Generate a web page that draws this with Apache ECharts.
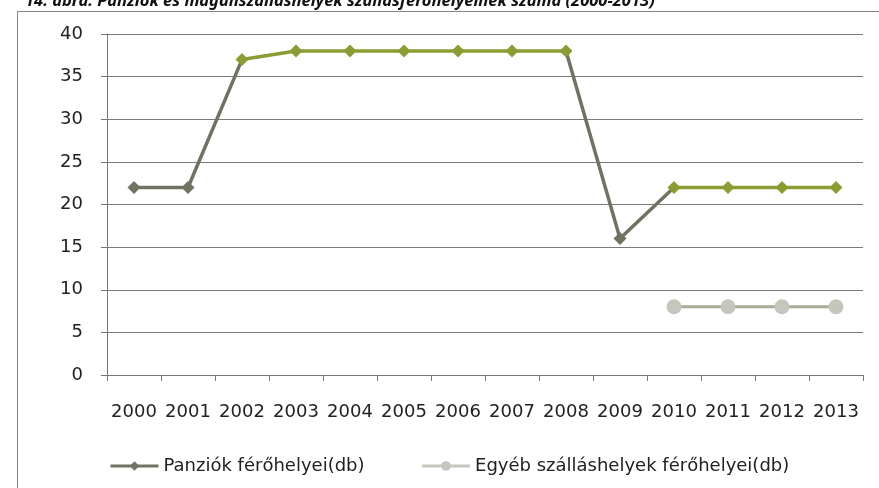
<!DOCTYPE html>
<html><head><meta charset="utf-8">
<script src="https://cdn.jsdelivr.net/npm/echarts@6/dist/echarts.min.js"></script>
<style>html,body{margin:0;padding:0;background:#fff}#c{width:879px;height:488px}</style>
</head><body><div id="c"></div>
<script>
const years = ['2000','2001','2002','2003','2004','2005','2006','2007','2008','2009','2010','2011','2012','2013'];
const panziok = [22,22,37,38,38,38,38,38,38,16,22,22,22,22];
const egyeb = [null,null,null,null,null,null,null,null,null,null,8,8,8,8];
const yTicks = [0,5,10,15,20,25,30,35,40];
const seriesNames = ['Panziók férőhelyei(db)','Egyéb szálláshelyek férőhelyei(db)'];
const titleText = '14. ábra: Panziók és magánszálláshelyek szállásférőhelyeinek száma (2000-2013)';

const chart = echarts.init(document.getElementById('c'), null, {renderer:'canvas'});
const font = 'DejaVu Sans';
chart.setOption({
  animation:false,
  backgroundColor:'#fff',
  title:{text:titleText,left:20,top:-12,textStyle:{fontFamily:'Noto Sans',fontSize:16.5,fontWeight:'bold',fontStyle:'italic',color:'#111'}},
  graphic:[
    {type:'line',shape:{x1:17,y1:11.5,x2:879,y2:11.5},style:{stroke:'#888',lineWidth:1}},
    {type:'line',shape:{x1:17.5,y1:11,x2:17.5,y2:488},style:{stroke:'#888',lineWidth:1}}
  ],
  grid:{left:107,right:16,top:34,bottom:113,containLabel:false},
  legend:{
    top:452,left:104,itemGap:56,itemWidth:48,itemHeight:12,
    textStyle:{fontFamily:font,fontSize:18,color:'#222'},
    data:[
      {name:seriesNames[0],itemStyle:{color:'#6f7462'},lineStyle:{color:'#6f7462',width:3}},
      {name:seriesNames[1],itemStyle:{color:'#c4c7bb'},lineStyle:{color:'#c4c7bb',width:3}}
    ]
  },
  visualMap:{show:false,type:'piecewise',seriesIndex:0,dimension:0,
    pieces:[{gt:1.5,lt:8.4,color:'#8c9c32'},{gt:9.6,lte:13,color:'#8c9c32'}],
    outOfRange:{color:'#6f7462'}},
  xAxis:{type:'category',data:years,boundaryGap:true,
    axisLine:{lineStyle:{color:'#777',width:1}},
    axisTick:{show:true,alignWithLabel:false,length:6,lineStyle:{color:'#777'}},
    axisLabel:{fontFamily:font,fontSize:18,color:'#222',margin:28,interval:0}},
  yAxis:{type:'value',min:yTicks[0],max:yTicks[yTicks.length-1],interval:5,
    axisLine:{show:true,lineStyle:{color:'#777'}},
    axisTick:{show:true,length:6,lineStyle:{color:'#777'}},
    axisLabel:{fontFamily:font,fontSize:18,color:'#222',margin:24},
    splitLine:{lineStyle:{color:'#7a7a7a',width:1}}},
  series:[
    {name:seriesNames[0],type:'line',data:panziok,symbol:'diamond',symbolSize:13,
     lineStyle:{width:3.5},itemStyle:{color:'#6f7462'}},
    {name:seriesNames[1],type:'line',data:egyeb,symbol:'circle',symbolSize:15,connectNulls:false,
     lineStyle:{width:3,color:'#a9ad98'},itemStyle:{color:'#c4c7bb'}}
  ]
});
</script></body></html>
